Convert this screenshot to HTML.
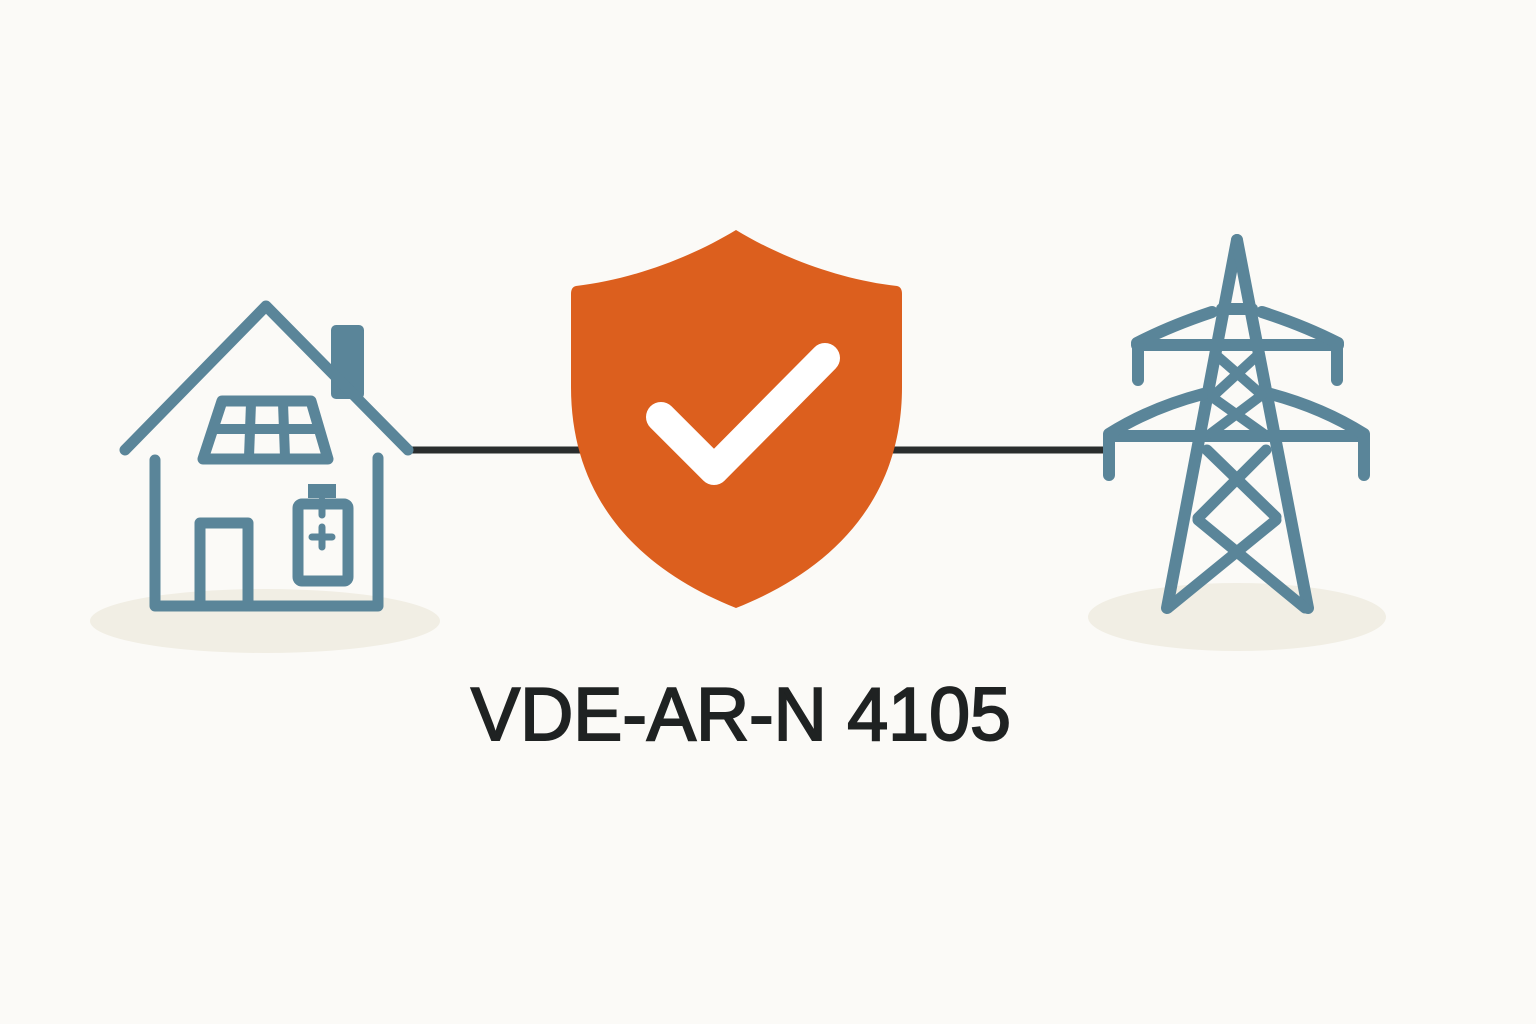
<!DOCTYPE html>
<html><head><meta charset="utf-8"><style>
html,body{margin:0;padding:0;background:#fbfaf7;}
svg{display:block}
</style></head><body>
<svg width="1536" height="1024" viewBox="0 0 1536 1024" xmlns="http://www.w3.org/2000/svg">
<rect width="1536" height="1024" fill="#fbfaf7"/>
<ellipse cx="265" cy="621" rx="175" ry="32" fill="#f1eee4"/>
<ellipse cx="1237" cy="617" rx="149" ry="34" fill="#f1eee4"/>
<line x1="408" y1="450" x2="1110" y2="450" stroke="#2a2d2d" stroke-width="7"/>
<g stroke="#5a8599" stroke-width="11" stroke-linecap="round" stroke-linejoin="round" fill="none">
  <rect x="333" y="327" width="29" height="70" rx="3" fill="#5a8599" stroke-width="4"/>
  <polyline points="125,450 266,306 408,450"/>
  <polyline points="155,460 155,606 378,606 378,458"/>
  <path d="M222,401 L311,401 L328,459 L203,459 Z"/>
  <line x1="214" y1="429" x2="318" y2="429" stroke-width="10" stroke-linecap="butt"/>
  <line x1="251" y1="403" x2="249" y2="457" stroke-width="10"/>
  <line x1="283" y1="403" x2="285" y2="457" stroke-width="10"/>
  <polyline points="200,606 200,523 248,523 248,606"/>
  <rect x="298" y="504" width="50" height="77" rx="4"/>
  <line x1="308" y1="491" x2="336" y2="491" stroke-width="14" stroke-linecap="butt"/>
  <line x1="322" y1="500" x2="322" y2="515" stroke-width="7"/>
  <line x1="312" y1="537" x2="332" y2="537" stroke-width="7"/>
  <line x1="322" y1="527" x2="322" y2="547" stroke-width="7"/>
</g>
<path d="M736,230 C690,258 630,280 576,286 Q571,287 571,294 L571,387 C571,500 640,570 736,608 C832,570 902,500 902,387 L902,294 Q902,287 897,286 C842,280 782,258 736,230 Z" fill="#dc5f1e"/>
<polyline points="661,417 714,470 825,358" fill="none" stroke="#fff" stroke-width="30" stroke-linecap="round" stroke-linejoin="round"/>
<g stroke="#5a8599" stroke-width="12" stroke-linecap="round" stroke-linejoin="round" fill="none">
  <line x1="1237" y1="240" x2="1167" y2="608"/>
  <line x1="1237" y1="240" x2="1308" y2="608"/>
  <line x1="1222" y1="309" x2="1252" y2="309"/>
  <line x1="1137" y1="345" x2="1338" y2="345"/>
  <path d="M1137,343 Q1170,326 1212,312 M1338,343 Q1305,326 1262,312"/>
  <line x1="1138" y1="345" x2="1138" y2="380"/>
  <line x1="1337" y1="345" x2="1337" y2="380"/>
  <line x1="1109" y1="436" x2="1364" y2="436"/>
  <path d="M1109,434 Q1150,408 1203,394 M1364,434 Q1323,408 1271,394"/>
  <line x1="1109" y1="436" x2="1109" y2="475"/>
  <line x1="1364" y1="436" x2="1364" y2="475"/>
  <line x1="1215" y1="354" x2="1262" y2="395" stroke-width="10"/>
  <line x1="1259" y1="354" x2="1212" y2="397" stroke-width="10"/>
  <line x1="1212" y1="397" x2="1264" y2="434" stroke-width="10"/>
  <line x1="1262" y1="395" x2="1210" y2="434" stroke-width="10"/>
  <line x1="1207" y1="450" x2="1276" y2="517" stroke-width="11"/>
  <line x1="1266" y1="450" x2="1198" y2="518" stroke-width="11"/>
  <line x1="1198" y1="520" x2="1305" y2="608" stroke-width="11"/>
  <line x1="1276" y1="520" x2="1168" y2="608" stroke-width="11"/>
</g>
<text x="741" y="740" text-anchor="middle" font-family="Liberation Sans, Arial, sans-serif" font-size="75" fill="#1f2222" stroke="#1f2222" stroke-width="2" textLength="540" lengthAdjust="spacingAndGlyphs">VDE-AR-N 4105</text>
</svg>
</body></html>
